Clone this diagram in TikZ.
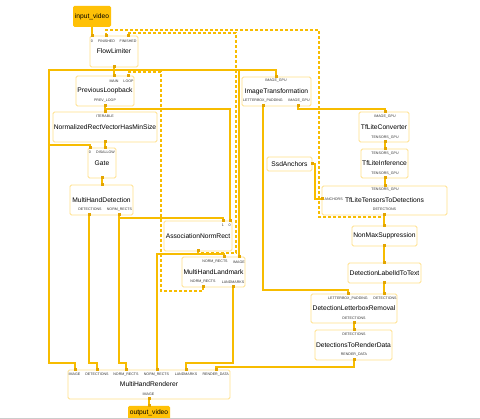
\documentclass[tikz,border=0pt]{standalone}
\usepackage{fontspec}
\setmainfont{Liberation Sans}
\definecolor{wire}{HTML}{F7BC00}
\definecolor{nodeline}{HTML}{FFE08A}
\definecolor{markc}{HTML}{E3A500}
\definecolor{iofill}{HTML}{FFC107}
\newcommand\tfont{\fontsize{6.7}{7}\selectfont}
\newcommand\pfont{\fontsize{3.6}{4}\selectfont}
\begin{document}
\begin{tikzpicture}[x=1pt,y=-1pt,
  box/.style={draw=nodeline, fill=white, rounded corners=1.5pt, line width=0.9pt, font=\tfont, inner sep=0pt},
  iobox/.style={fill=iofill, rounded corners=1.5pt, font=\tfont, inner sep=0pt},
  plabel/.style={font=\pfont, inner sep=0pt, text=black!80},
  wireline/.style={draw=wire, line width=1.1pt},
  backline/.style={wireline, dash pattern=on 3pt off 2pt}]
\useasboundingbox (0,0) rectangle (480,419);
\fill[white] (0,0) rectangle (480,419);

% ---------- nodes ----------
\node[iobox, minimum width=38pt, minimum height=21pt] (iv) at (92,16.5) {input\_video};
\node[box, minimum width=48pt, minimum height=31pt] (flow) at (114,51.5) {FlowLimiter};
\node[box, minimum width=58pt, minimum height=30pt] (prev) at (105,91) {PreviousLoopback};
\node[box, minimum width=104pt, minimum height=30pt] (nrv) at (105,127) {NormalizedRectVectorHasMinSize};
\node[box, minimum width=28pt, minimum height=30pt] (gate) at (102,163) {Gate};
\node[box, minimum width=63pt, minimum height=30pt] (mhd) at (101.5,200) {MultiHandDetection};
\node[box, minimum width=68pt, minimum height=30pt] (anr) at (198,236) {AssociationNormRect};
\node[box, minimum width=63pt, minimum height=30pt] (mhl) at (213.5,272) {MultiHandLandmark};
\node[box, minimum width=162pt, minimum height=29pt] (mhr) at (149,384.5) {MultiHandRenderer};
\node[iobox, minimum width=42pt, minimum height=24pt] (ov) at (149,418) {};
\node[font=\tfont, inner sep=0pt] (ovt) at (149,413) {output\_video};
\node[box, minimum width=69pt, minimum height=29pt] (it) at (276.5,91.5) {ImageTransformation};
\node[box, minimum width=50pt, minimum height=30pt] (tlc) at (384,127) {TfLiteConverter};
\node[box, minimum width=47pt, minimum height=29pt] (tli) at (384.5,163.5) {TfLiteInference};
\node[box, minimum width=45pt, minimum height=14pt] (ssd) at (289.5,164) {SsdAnchors};
\node[box, minimum width=125pt, minimum height=29pt] (ttd) at (384.5,200.5) {TfLiteTensorsToDetections};
\node[box, minimum width=65pt, minimum height=20pt] (nms) at (384.5,236) {NonMaxSuppression};
\node[box, minimum width=73pt, minimum height=20pt] (dlit) at (384.5,273) {DetectionLabelIdToText};
\node[box, minimum width=86pt, minimum height=29pt] (dlr) at (354,308.5) {DetectionLetterboxRemoval};
\node[box, minimum width=77pt, minimum height=30pt] (dtr) at (353.5,345) {DetectionsToRenderData};

% ---------- port labels ----------
\node[plabel] (flL0) at (92,41.5) {0};
\node[plabel] (flL1) at (106.5,41.5) {FINISHED};
\node[plabel] (flL2) at (128,41.5) {FINISHED};
\node[plabel] (plL1) at (114,81) {MAIN};
\node[plabel] (plL2) at (128.5,81) {LOOP};
\node[plabel] (plL3) at (105,100.5) {PREV\_LOOP};
\node[plabel] (nrvL) at (105,116.3) {ITERABLE};
\node[plabel] (gL0) at (90,152.7) {0};
\node[plabel] (gL1) at (105.5,152.7) {DISALLOW};
\node[plabel] (mhdL1) at (90,209.3) {DETECTIONS};
\node[plabel] (mhdL2) at (119.5,209.3) {NORM\_RECTS};
\node[plabel] (anrL1) at (223,225.5) {1};
\node[plabel] (anrL0) at (229.5,225.5) {0};
\node[plabel] (mhlL1) at (215,262) {NORM\_RECTS};
\node[plabel] (mhlL2) at (239,262) {IMAGE};
\node[plabel] (mhlL3) at (203,282) {NORM\_RECTS};
\node[plabel] (mhlL4) at (233,282) {LANDMARKS};
\node[plabel] (mhrL1) at (74.5,374.5) {IMAGE};
\node[plabel] (mhrL2) at (97,374.5) {DETECTIONS};
\node[plabel] (mhrL3) at (126,374.5) {NORM\_RECTS};
\node[plabel] (mhrL4) at (156.5,374.5) {NORM\_RECTS};
\node[plabel] (mhrL5) at (186,374.5) {LANDMARKS};
\node[plabel] (mhrL6) at (215.7,374.5) {RENDER\_DATA};
\node[plabel] (mhrL7) at (148.5,394) {IMAGE};
\node[plabel] (itL1) at (276,81) {IMAGE\_GPU};
\node[plabel] (itL2) at (263,101) {LETTERBOX\_PADDING};
\node[plabel] (itL3) at (299,101) {IMAGE\_GPU};
\node[plabel] (tlcL1) at (385,116.3) {IMAGE\_GPU};
\node[plabel] (tlcL2) at (385,137.3) {TENSORS\_GPU};
\node[plabel] (tliL1) at (385,153.3) {TENSORS\_GPU};
\node[plabel] (tliL2) at (385,173.3) {TENSORS\_GPU};
\node[plabel] (ttdL1) at (385,189.5) {TENSORS\_GPU};
\node[plabel, anchor=west] (ttdL2) at (324.5,199.3) {ANCHORS};
\node[plabel] (ttdL3) at (384.5,209.3) {DETECTIONS};
\node[plabel] (dlrL1) at (348,298.3) {LETTERBOX\_PADDING};
\node[plabel] (dlrL2) at (385,298.3) {DETECTIONS};
\node[plabel] (dlrL3) at (354,318.3) {DETECTIONS};
\node[plabel] (dtrL1) at (354,334.3) {DETECTIONS};
\node[plabel] (dtrL2) at (354,354.3) {RENDER\_DATA};

% ---------- port coordinates ----------
\coordinate (iv-out) at (92,27);
\coordinate (fl-in0) at (92,36);
\coordinate (fl-fin1) at (106,36);
\coordinate (fl-fin2) at (128,36);
\coordinate (fl-out) at (114,67);
\coordinate (pl-main) at (114,76);
\coordinate (pl-loop) at (128,76);
\coordinate (pl-out) at (105,106);
\coordinate (nrv-in) at (105,112);
\coordinate (nrv-out) at (105,142);
\coordinate (g-in0) at (90,148);
\coordinate (g-dis) at (105,148);
\coordinate (g-out) at (102,178);
\coordinate (mhd-in) at (102,185);
\coordinate (mhd-det) at (89,215);
\coordinate (mhd-nr) at (119,215);
\coordinate (anr-1) at (223,221);
\coordinate (anr-0) at (230,221);
\coordinate (anr-out) at (198,251);
\coordinate (mhl-nr) at (224,257);
\coordinate (mhl-img) at (239,257);
\coordinate (mhl-onr) at (203,287);
\coordinate (mhl-lm) at (233,287);
\coordinate (mhr-img) at (75,370);
\coordinate (mhr-det) at (97,370);
\coordinate (mhr-nr1) at (126,370);
\coordinate (mhr-nr2) at (157,370);
\coordinate (mhr-lm) at (186,370);
\coordinate (mhr-rd) at (216,370);
\coordinate (mhr-out) at (149,399);
\coordinate (ov-in) at (149,406);
\coordinate (it-in) at (276,77);
\coordinate (it-lp) at (263,106);
\coordinate (it-img) at (298,106);
\coordinate (tlc-in) at (385,112);
\coordinate (tlc-out) at (385,142);
\coordinate (tli-in) at (385,149);
\coordinate (tli-out) at (385,178);
\coordinate (ttd-in) at (385,186);
\coordinate (ttd-anc) at (322,199);
\coordinate (ttd-out) at (384,215);
\coordinate (ssd-out) at (312,164);
\coordinate (nms-in) at (384,226);
\coordinate (nms-out) at (384,246);
\coordinate (dl-in) at (384,263);
\coordinate (dl-out) at (384,283);
\coordinate (dlr-lp) at (348,294);
\coordinate (dlr-det) at (384,294);
\coordinate (dlr-out) at (354,323);
\coordinate (dt-in) at (354,330);
\coordinate (dt-out) at (354,360);

% ---------- back edges (dashed) ----------
\draw[backline] (ttd-out) -- (384,217) -- (319,217) -- (319,30) -- (106,30) -- (fl-fin1);
\draw[backline] (anr-out) -- (198,253) -- (236,253) -- (236,33) -- (128,33) -- (fl-fin2);
\draw[backline] (mhl-onr) -- (203,291) -- (161,291) -- (161,72) -- (128,72) -- (pl-loop);

% ---------- edges ----------
\draw[wireline] (iv-out) -- (fl-in0);
\draw[wireline] (fl-out) -- (pl-main);
\draw[wireline] (114,70) -- (49,70) -- (49,363) -- (75,363) -- (mhr-img);
\draw[wireline] (49,145) -- (90,145) -- (g-in0);
\draw[wireline] (114,70) -- (276,70) -- (it-in);
\draw[wireline] (239,70) -- (mhl-img);
\draw[wireline] (pl-out) -- (nrv-in);
\draw[wireline] (105,109) -- (230,109) -- (anr-0);
\draw[wireline] (nrv-out) -- (g-dis);
\draw[wireline] (g-out) -- (mhd-in);
\draw[wireline] (mhd-det) -- (89,363) -- (97,363) -- (mhr-det);
\draw[wireline] (mhd-nr) -- (119,218) -- (223,218) -- (anr-1);
\draw[wireline] (119,218) -- (119,363) -- (126,363) -- (mhr-nr1);
\draw[wireline] (anr-out) -- (198,254) -- (157,254) -- (mhr-nr2);
\draw[wireline] (198,254) -- (224,254) -- (mhl-nr);
\draw[wireline] (mhl-lm) -- (233,363) -- (186,363) -- (mhr-lm);
\draw[wireline] (it-img) -- (298,109) -- (385,109) -- (tlc-in);
\draw[wireline] (tlc-out) -- (tli-in);
\draw[wireline] (tli-out) -- (ttd-in);
\draw[wireline] (ssd-out) -- (315,164) -- (315,199) -- (ttd-anc);
\draw[wireline] (ttd-out) -- (nms-in);
\draw[wireline] (nms-out) -- (dl-in);
\draw[wireline] (dl-out) -- (dlr-det);
\draw[wireline] (it-lp) -- (263,290) -- (348,290) -- (dlr-lp);
\draw[wireline] (dlr-out) -- (dt-in);
\draw[wireline] (dt-out) -- (354,367) -- (216,367) -- (mhr-rd);
\draw[wireline] (mhr-out) -- (ov-in);

% ---------- port markers ----------
\foreach \p in {fl-in0,fl-fin1,fl-fin2,fl-out,pl-main,pl-loop,pl-out,nrv-in,nrv-out,
  g-in0,g-dis,g-out,mhd-in,mhd-det,mhd-nr,anr-1,anr-0,anr-out,mhl-nr,mhl-img,mhl-onr,mhl-lm,
  mhr-img,mhr-det,mhr-nr1,mhr-nr2,mhr-lm,mhr-rd,mhr-out,ov-in,it-in,it-lp,it-img,
  tlc-in,tlc-out,tli-in,tli-out,ttd-in,ttd-anc,ttd-out,ssd-out,nms-in,nms-out,dl-in,dl-out,
  dlr-lp,dlr-det,dlr-out,dt-in,dt-out}
  \fill[markc] (\p) +(-1.5,-1.5) rectangle +(1.5,1.5);

\draw[black!20, line width=0.8pt] (0,418.6) -- (480,418.6);
\end{tikzpicture}
\end{document}
